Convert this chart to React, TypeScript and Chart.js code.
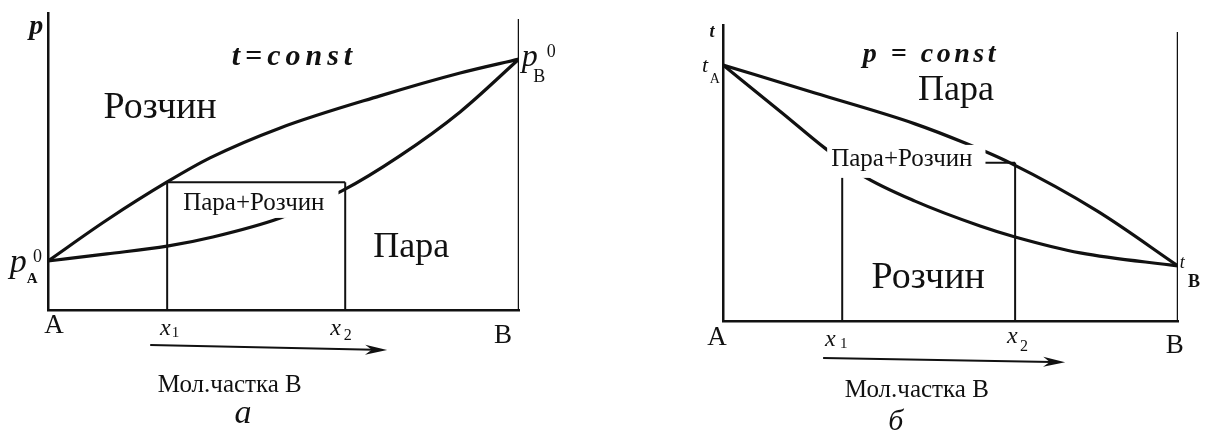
import React, { useEffect, useRef } from "react";
import { Chart, registerables } from "chart.js";

Chart.register(...registerables);

// ---------- Diagram а: vapour pressure vs. mole fraction of B (t = const) ----------
const PA0 = 16.5; // vapour pressure of pure A
const PB0 = 84.5; // vapour pressure of pure B
const liquidX_a = [0, 0.125, 0.253, 0.344, 0.493, 0.705, 0.875, 1];
const liquidP_a = [PA0, 30.3, 43.1, 51.2, 61.3, 72.1, 79.8, PB0];
const vapourX_a = [0, 0.125, 0.253, 0.35, 0.493, 0.624, 0.747, 0.875, 1];
const vapourP_a = [PA0, 18.9, 21.5, 24.6, 31.0, 40.1, 51.9, 66.7, PB0];
const x1_a = 0.253;
const x2_a = 0.631;
const pTie_a = 43;
const edgeTop_a = 98;

// ---------- Diagram б: boiling temperature vs. mole fraction of B (p = const) ----------
const TA = 86.5; // boiling point of pure A
const TB = 18.6; // boiling point of pure B
const vapourX_b = [0, 0.202, 0.422, 0.532, 0.631, 0.822, 1];
const vapourT_b = [TA, 77.0, 66.6, 60.1, 53.4, 37.2, TB];
const liquidX_b = [0, 0.13, 0.224, 0.305, 0.422, 0.565, 0.642, 0.785, 1];
const liquidT_b = [TA, 70.3, 58.4, 49.3, 40.5, 32.1, 28.4, 23.0, TB];
const x1_b = 0.262;
const x2_b = 0.642;
const tTie_b = 53.5;
const edgeTop_b = 97.6;

const INK = "#111";
const SERIF = '"Liberation Serif", "Times New Roman", serif';

type Note = {
  text: string;
  x: number; // data x of anchor
  y: number; // data y of text baseline
  font: string;
  align?: "left" | "center";
  spacing?: number;
  box?: [number, number, number, number]; // white backing: left, right, top, bottom padding
};

const notes_a: Note[] = [
  { text: "p", x: -0.025, y: 92.9, font: `italic bold 28px ${SERIF}`, align: "center" },
  { text: "t=const", x: 0.518, y: 82.5, font: `italic bold 30px ${SERIF}`, align: "center", spacing: 5 },
  { text: "Розчин", x: 0.238, y: 64.6, font: `38px ${SERIF}`, align: "center" },
  { text: "Пара+Розчин", x: 0.437, y: 33.7, font: `25px ${SERIF}`, align: "center", box: [13, 14, 6, 3] },
  { text: "Пара", x: 0.771, y: 17.8, font: `36px ${SERIF}`, align: "center" },
  { text: "p", x: -0.081, y: 12.8, font: `italic 34px ${SERIF}` },
  { text: "0", x: -0.032, y: 16.2, font: `18px ${SERIF}` },
  { text: "A", x: -0.045, y: 9.1, font: `bold 15px ${SERIF}` },
  { text: "p", x: 1.006, y: 82.2, font: `italic 32px ${SERIF}` },
  { text: "0", x: 1.059, y: 85.2, font: `18px ${SERIF}` },
  { text: "B", x: 1.03, y: 76.8, font: `18px ${SERIF}` },
  { text: "A", x: 0.013, y: -7.7, font: `27px ${SERIF}`, align: "center" },
  { text: "x", x: 0.238, y: -8.4, font: `italic 24px ${SERIF}` },
  { text: "1", x: 0.263, y: -9.1, font: `15px ${SERIF}` },
  { text: "x", x: 0.599, y: -8.4, font: `italic 24px ${SERIF}` },
  { text: "2", x: 0.628, y: -10.1, font: `16px ${SERIF}` },
  { text: "B", x: 0.966, y: -11.1, font: `27px ${SERIF}`, align: "center" },
  { text: "Мол.частка В", x: 0.386, y: -27.6, font: `25px ${SERIF}`, align: "center" },
  { text: "а", x: 0.414, y: -38.0, font: `italic 34px ${SERIF}`, align: "center" },
];

const notes_b: Note[] = [
  { text: "t", x: -0.024, y: 95.9, font: `italic bold 18px ${SERIF}`, align: "center" },
  { text: "t", x: -0.046, y: 84.1, font: `italic 22px ${SERIF}` },
  { text: "A", x: -0.029, y: 80.4, font: `14px ${SERIF}` },
  { text: "p = const", x: 0.453, y: 87.5, font: `italic bold 28px ${SERIF}`, align: "center", spacing: 3.5 },
  { text: "Пара", x: 0.512, y: 74.7, font: `36px ${SERIF}`, align: "center" },
  { text: "Пара+Розчин", x: 0.393, y: 52.4, font: `25px ${SERIF}`, align: "center", box: [4, 13, 4, 7] },
  { text: "Розчин", x: 0.451, y: 11.1, font: `38px ${SERIF}`, align: "center" },
  { text: "t", x: 1.004, y: 17.9, font: `italic 18px ${SERIF}` },
  { text: "B", x: 1.022, y: 11.5, font: `bold 18px ${SERIF}` },
  { text: "A", x: -0.013, y: -8.1, font: `27px ${SERIF}`, align: "center" },
  { text: "x", x: 0.224, y: -8.4, font: `italic 24px ${SERIF}` },
  { text: "1", x: 0.257, y: -9.1, font: `15px ${SERIF}` },
  { text: "x", x: 0.624, y: -7.4, font: `italic 24px ${SERIF}` },
  { text: "2", x: 0.653, y: -10.1, font: `16px ${SERIF}` },
  { text: "B", x: 0.993, y: -10.8, font: `27px ${SERIF}`, align: "center" },
  { text: "Мол.частка В", x: 0.426, y: -25.7, font: `25px ${SERIF}`, align: "center" },
  { text: "б", x: 0.38, y: -36.8, font: `italic 30px ${SERIF}`, align: "center" },
];

// composition arrows under each axis: [x0, y0, x1, y1] in data units
const arrow_a = [0.217, -11.8, 0.72, -13.5];
const arrow_b = [0.22, -12.5, 0.752, -13.9];

const pts = (xs: number[], ys: number[]) => xs.map((x, i) => ({ x, y: ys[i] }));
const seg = (xa: number, ya: number, xb: number, yb: number) => [
  { x: xa, y: ya },
  { x: xb, y: yb },
];

const curve = (data: { x: number; y: number }[]) => ({
  data,
  showLine: true,
  borderColor: INK,
  borderWidth: 3.2,
  pointRadius: 0,
  cubicInterpolationMode: "monotone" as const,
});

const rule = (data: { x: number; y: number }[], w = 2) => ({
  data,
  showLine: true,
  borderColor: INK,
  borderWidth: w,
  pointRadius: 0,
});

const axis = (min: number, max: number) => ({
  type: "linear" as const,
  min,
  max,
  ticks: { display: false },
  grid: { display: false, drawTicks: false },
  border: { display: true, color: INK, width: 2.5 },
});

function drawSpaced(ctx: CanvasRenderingContext2D, text: string, x: number, y: number, sp: number) {
  let cx = x;
  for (const ch of text) {
    ctx.fillText(ch, cx, y);
    cx += ctx.measureText(ch).width + sp;
  }
}

function spacedWidth(ctx: CanvasRenderingContext2D, text: string, sp: number) {
  if (!sp) return ctx.measureText(text).width;
  let w = 0;
  for (const ch of text) w += ctx.measureText(ch).width + sp;
  return w - sp;
}

const notesPlugin = (id: string, notes: Note[], arrow: number[]) => ({
  id,
  afterDatasetsDraw(chart: any) {
    const { ctx, scales } = chart;
    const sx = scales.x;
    const sy = scales.y;
    ctx.save();

    // composition arrow
    const ax0 = sx.getPixelForValue(arrow[0]);
    const ay0 = sy.getPixelForValue(arrow[1]);
    const ax1 = sx.getPixelForValue(arrow[2]);
    const ay1 = sy.getPixelForValue(arrow[3]);
    const ang = Math.atan2(ay1 - ay0, ax1 - ax0);
    const c = Math.cos(ang);
    const s = Math.sin(ang);
    const head = 22;
    ctx.strokeStyle = INK;
    ctx.lineWidth = 2;
    ctx.beginPath();
    ctx.moveTo(ax0, ay0);
    ctx.lineTo(ax1 - head * 0.6 * c, ay1 - head * 0.6 * s);
    ctx.stroke();
    ctx.fillStyle = INK;
    ctx.beginPath();
    ctx.moveTo(ax1, ay1);
    ctx.lineTo(ax1 - head * c + 5 * s, ay1 - head * s - 5 * c);
    ctx.lineTo(ax1 - head * 0.7 * c, ay1 - head * 0.7 * s);
    ctx.lineTo(ax1 - head * c - 5 * s, ay1 - head * s + 5 * c);
    ctx.closePath();
    ctx.fill();

    ctx.textAlign = "left";
    ctx.textBaseline = "alphabetic";
    for (const n of notes) {
      ctx.font = n.font;
      const px = sx.getPixelForValue(n.x);
      const py = sy.getPixelForValue(n.y);
      const sp = n.spacing || 0;
      const w = spacedWidth(ctx, n.text, sp);
      const x0 = n.align === "center" ? px - w / 2 : px;
      if (n.box) {
        const m = ctx.measureText(n.text);
        const asc = m.actualBoundingBoxAscent;
        const desc = m.actualBoundingBoxDescent;
        ctx.fillStyle = "#fff";
        ctx.fillRect(
          x0 - n.box[0],
          py - asc - n.box[2],
          w + n.box[0] + n.box[1],
          asc + desc + n.box[2] + n.box[3]
        );
      }
      ctx.fillStyle = INK;
      if (sp) drawSpaced(ctx, n.text, x0, py, sp);
      else ctx.fillText(n.text, x0, py);
    }
    ctx.restore();
  },
});

function makeConfig(
  datasets: any[],
  padding: { left: number; right: number; top: number; bottom: number },
  notes: Note[],
  arrow: number[],
  id: string
): any {
  return {
    type: "scatter",
    data: { datasets },
    options: {
      responsive: false,
      animation: false,
      events: [],
      layout: { padding },
      plugins: {
        legend: { display: false },
        tooltip: { enabled: false },
        title: { display: false },
      },
      scales: { x: axis(0, 1), y: axis(0, 100) },
    },
    plugins: [notesPlugin(id, notes, arrow)],
  };
}

const configA = () =>
  makeConfig(
    [
      curve(pts(liquidX_a, liquidP_a)),
      curve(pts(vapourX_a, vapourP_a)),
      rule(seg(x1_a, pTie_a, x2_a, pTie_a)),
      rule(seg(x1_a, 0, x1_a, pTie_a)),
      rule(seg(x2_a, 0, x2_a, pTie_a)),
      rule(seg(1, 0, 1, edgeTop_a), 2.5),
    ],
    { left: 48, right: 87, top: 13, bottom: 125 },
    notes_a,
    arrow_a,
    "notesA"
  );

const configB = () =>
  makeConfig(
    [
      curve(pts(vapourX_b, vapourT_b)),
      curve(pts(liquidX_b, liquidT_b)),
      rule(seg(x1_b, tTie_b, x2_b, tTie_b)),
      rule(seg(x1_b, 0, x1_b, tTie_b)),
      rule(seg(x2_b, 0, x2_b, tTie_b)),
      rule(seg(1, 0, 1, edgeTop_b), 2.5),
    ],
    { left: 117, right: 35, top: 25, bottom: 114 },
    notes_b,
    arrow_b,
    "notesB"
  );

function Diagram({ left, width, make }: { left: number; width: number; make: () => any }) {
  const ref = useRef<HTMLCanvasElement>(null);
  useEffect(() => {
    const chart = new Chart(ref.current as HTMLCanvasElement, make());
    return () => chart.destroy();
  }, [make]);
  return (
    <canvas
      ref={ref}
      width={width}
      height={435}
      style={{ position: "absolute", left, top: 0, width, height: 435 }}
    />
  );
}

export default function App() {
  return (
    <div
      style={{
        position: "absolute",
        left: 0,
        top: 0,
        width: 1213,
        height: 435,
        background: "#fff",
        overflow: "hidden",
      }}
    >
      <Diagram left={0} width={606} make={configA} />
      <Diagram left={606} width={607} make={configB} />
    </div>
  );
}
